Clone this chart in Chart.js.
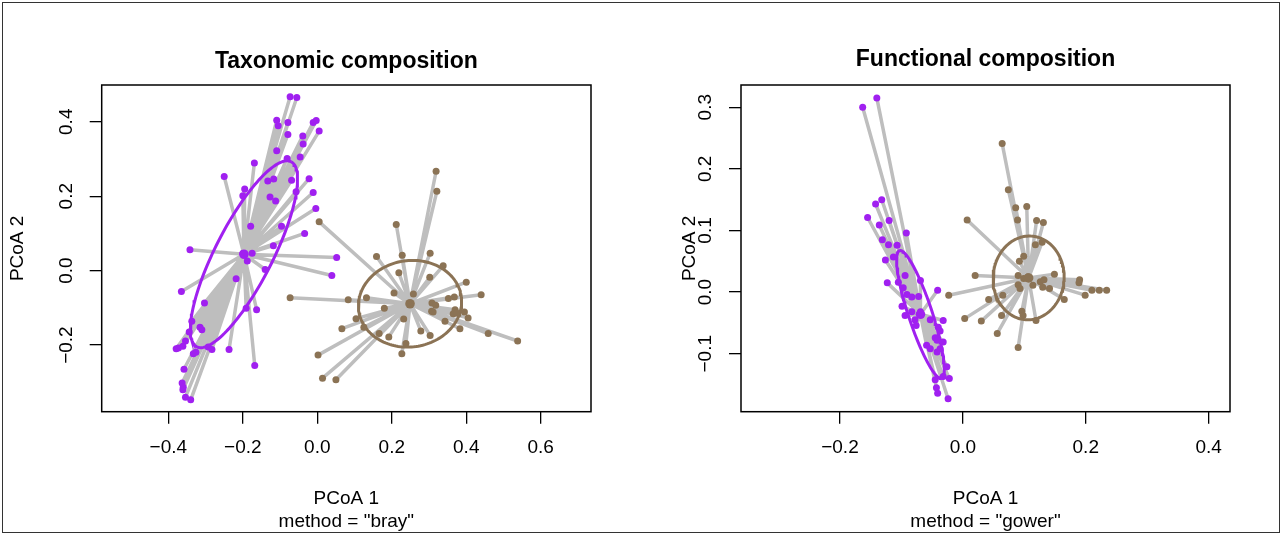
<!DOCTYPE html>
<html>
<head>
<meta charset="utf-8">
<script src="https://cdn.jsdelivr.net/npm/chart.js@4.4.1/dist/chart.umd.min.js"></script>
<style>
  html, body { margin: 0; padding: 0; background: #fff; }
  #page { position: relative; width: 1282px; height: 535px; overflow: hidden; }
  #frame { position: absolute; left: 2px; top: 2px; width: 1276px; height: 529px; border: 1px solid #333; }
  .panel { position: absolute; top: 0; width: 641px; height: 535px; }
</style>
</head>
<body>
<div id="page">
  <div id="frame"></div>
  <div class="panel" style="left:0"><canvas id="taxChart" width="641" height="535"></canvas></div>
  <div class="panel" style="left:641px"><canvas id="funcChart" width="641" height="535"></canvas></div>
</div>
<script>
// group colours
const groupColors = ["#A020F0", "#8B7355"];

// --- Taxonomic composition (bray) ---
const taxPurpleX = [-0.073, -0.055, -0.109, -0.105, -0.079, -0.011, -0.003, 0.005, -0.079, -0.039,
  -0.038, -0.109, -0.169, -0.081, -0.046, -0.250, -0.022, -0.133, -0.117, -0.069,
  -0.195, -0.200, -0.057, -0.011, -0.127, -0.112, -0.004, -0.179, -0.096, -0.034,
  -0.342, -0.118, -0.200, -0.175, 0.052, -0.188, 0.039, -0.140, -0.218, -0.365,
  -0.303, -0.191, -0.163, -0.337, -0.315, -0.310, -0.344, -0.354, -0.361, -0.379,
  -0.373, -0.333, -0.326, -0.293, -0.283, -0.237, -0.168, -0.358, -0.363, -0.360,
  -0.361, -0.354, -0.340];
const taxPurpleY = [0.467, 0.465, 0.404, 0.389, 0.398, 0.398, 0.403, 0.375, 0.366, 0.362,
  0.340, 0.322, 0.289, 0.301, 0.305, 0.253, 0.247, 0.241, 0.246, 0.243,
  0.219, 0.201, 0.212, 0.210, 0.198, 0.187, 0.167, 0.119, 0.119, 0.100,
  0.056, 0.067, 0.046, 0.047, 0.035, 0.026, -0.013, 0.003, -0.022, -0.056,
  -0.087, -0.101, -0.105, -0.136, -0.152, -0.159, -0.165, -0.189, -0.203, -0.210,
  -0.208, -0.223, -0.219, -0.205, -0.212, -0.212, -0.255, -0.265, -0.302, -0.313,
  -0.320, -0.340, -0.347];
const taxBrownX = [0.319, 0.321, 0.005, 0.212, 0.159, 0.228, 0.303, 0.338, 0.219, 0.302,
  0.400, -0.073, 0.083, 0.132, 0.206, 0.258, 0.180, 0.308, 0.318, 0.352,
  0.368, 0.440, 0.307, 0.311, 0.370, 0.365, 0.374, 0.395, 0.405, 0.343,
  0.383, 0.232, 0.104, 0.066, 0.125, 0.166, 0.192, 0.278, 0.303, 0.238,
  0.227, 0.459, 0.538, 0.002, 0.014, 0.050];
const taxBrownY = [0.267, 0.213, 0.131, 0.124, 0.038, 0.041, 0.047, 0.013, -0.006, -0.018,
  -0.031, -0.073, -0.078, -0.073, -0.060, -0.063, -0.101, -0.087, -0.093, -0.075,
  -0.071, -0.065, -0.109, -0.111, -0.105, -0.116, -0.114, -0.111, -0.127, -0.136,
  -0.156, -0.130, -0.129, -0.156, -0.152, -0.169, -0.178, -0.162, -0.174, -0.196,
  -0.223, -0.169, -0.189, -0.227, -0.289, -0.293];
const taxCentroids = [[-0.197, 0.044], [0.249, -0.089]];
// ellipse semi-axes and angle (deg) per group
const taxEllipses = [[0.279, 0.077, 63], [0.139, 0.116, 8]];
const taxXTicks = [-0.4, -0.2, 0.0, 0.2, 0.4, 0.6];
const taxYTicks = [-0.2, 0.0, 0.2, 0.4];

// --- Functional composition (gower) ---
const funcPurpleX = [-0.163, -0.140, -0.142, -0.132, -0.155, -0.136, -0.120, -0.092, -0.131, -0.121,
  -0.107, -0.126, -0.113, -0.094, -0.123, -0.105, -0.069, -0.097, -0.091, -0.083,
  -0.072, -0.041, -0.099, -0.083, -0.069, -0.094, -0.078, -0.076, -0.053, -0.032,
  -0.040, -0.037, -0.045, -0.042, -0.059, -0.053, -0.032, -0.042, -0.037, -0.026,
  -0.032, -0.022, -0.045, -0.043, -0.041, -0.024];
const funcPurpleY = [0.300, 0.315, 0.143, 0.150, 0.121, 0.109, 0.116, 0.096, 0.085, 0.077,
  0.076, 0.052, 0.057, 0.027, 0.015, 0.016, 0.019, 0.007, -0.004, -0.008,
  -0.007, 0.003, -0.023, -0.032, -0.032, -0.038, -0.045, -0.054, -0.045, -0.046,
  -0.057, -0.063, -0.074, -0.078, -0.086, -0.092, -0.081, -0.097, -0.092, -0.121,
  -0.137, -0.140, -0.142, -0.155, -0.164, -0.173];
const funcBrownX = [0.064, 0.074, 0.086, 0.104, 0.089, 0.007, 0.120, 0.131, 0.118, 0.129,
  0.099, 0.092, 0.020, 0.090, 0.106, 0.099, 0.090, 0.093, 0.114, 0.126,
  0.132, 0.130, 0.149, 0.141, 0.190, 0.189, 0.210, 0.222, 0.234, 0.199,
  0.165, -0.023, 0.065, 0.042, 0.003, 0.030, 0.063, 0.096, 0.098, 0.119,
  0.056, 0.090];
const funcBrownY = [0.241, 0.166, 0.137, 0.139, 0.117, 0.117, 0.116, 0.113, 0.077, 0.081,
  0.058, 0.050, 0.027, 0.027, 0.025, 0.022, 0.012, 0.006, 0.011, 0.017,
  0.020, 0.008, 0.029, 0.006, 0.020, 0.015, 0.003, 0.003, 0.003, -0.005,
  -0.012, -0.005, -0.005, -0.012, -0.043, -0.047, -0.038, -0.031, -0.038, -0.046,
  -0.067, -0.090];
const funcCentroids = [[-0.069, -0.036], [0.107, 0.023]];
const funcEllipses = [[0.109, 0.0193, -71.7], [0.068, 0.0578, 86]];
const funcXTicks = [-0.2, 0.0, 0.2, 0.4];
const funcYTicks = [-0.1, 0.0, 0.1, 0.2, 0.3];

Chart.defaults.font.family = '"Liberation Sans", Arial, sans-serif';
Chart.defaults.color = "#000";

function toPoints(xs, ys) {
  return xs.map((x, i) => ({ x: x, y: ys[i] }));
}

// centroid -> point -> centroid ... as one polyline
function spokes(xs, ys, c) {
  const pts = [];
  xs.forEach((x, i) => {
    pts.push({ x: c[0], y: c[1] });
    pts.push({ x: x, y: ys[i] });
  });
  pts.push({ x: c[0], y: c[1] });
  return pts;
}

function ellipse(c, e) {
  const th = e[2] * Math.PI / 180;
  const pts = [];
  for (let k = 0; k <= 144; k++) {
    const t = (k / 144) * 2 * Math.PI;
    pts.push({
      x: c[0] + e[0] * Math.cos(t) * Math.cos(th) - e[1] * Math.sin(t) * Math.sin(th),
      y: c[1] + e[0] * Math.cos(t) * Math.sin(th) + e[1] * Math.sin(t) * Math.cos(th),
    });
  }
  return pts;
}

function fmt(v) {
  const s = Math.abs(v).toFixed(1);
  return v < -1e-9 ? "\u2212" + s : s;
}

const boxPlugin = {
  id: "box",
  afterDraw(chart) {
    const { ctx, chartArea: a } = chart;
    ctx.save();
    ctx.strokeStyle = "#000";
    ctx.lineWidth = 1.5;
    ctx.strokeRect(a.left, a.top, a.right - a.left, a.bottom - a.top);
    ctx.restore();
  },
};

function makePanel(id, p) {
  const datasets = [];
  const groups = [[p.px, p.py], [p.bx, p.by]];
  groups.forEach((g, i) => {
    datasets.push({
      data: spokes(g[0], g[1], p.centroids[i]),
      showLine: true, pointRadius: 0, borderColor: "#BEBEBE", borderWidth: 3.5,
      borderJoinStyle: "round", borderCapStyle: "round", order: 4,
    });
  });
  groups.forEach((g, i) => {
    datasets.push({
      data: ellipse(p.centroids[i], p.ellipses[i]),
      showLine: true, pointRadius: 0, borderColor: groupColors[i], borderWidth: 3, order: 3,
    });
  });
  groups.forEach((g, i) => {
    datasets.push({
      data: toPoints(g[0], g[1]),
      showLine: false, pointRadius: 3.5, pointBorderWidth: 0,
      backgroundColor: groupColors[i], borderColor: groupColors[i], order: 2,
    });
  });
  datasets.push({
    data: p.centroids.map(c => ({ x: c[0], y: c[1] })),
    showLine: false, pointRadius: 4.8, pointBorderWidth: 0,
    backgroundColor: groupColors, borderColor: groupColors, order: 1,
  });

  new Chart(document.getElementById(id), {
    type: "scatter",
    data: { datasets: datasets },
    plugins: [boxPlugin],
    options: {
      responsive: false,
      animation: false,
      events: [],
      layout: { padding: { left: 0, right: p.padRight, top: 0, bottom: 0 } },
      plugins: {
        legend: { display: false },
        tooltip: { enabled: false },
        title: {
          display: true, text: p.title, fullSize: false,
          font: { size: 23, weight: "bold" }, color: "#000",
          padding: { top: p.titleTop, bottom: 85 - 27.6 - p.titleTop },
        },
      },
      scales: {
        x: {
          type: "linear", min: p.xMin, max: p.xMax,
          afterFit: s => { s.height = 123.3; },
          afterBuildTicks: s => { s.ticks = p.xTicks.map(v => ({ value: v })); },
          grid: { drawOnChartArea: false, tickLength: 12, color: "#000", lineWidth: 1.3 },
          border: { display: false },
          ticks: { padding: 13, autoSkip: false, maxRotation: 0, font: { size: 19 }, callback: fmt },
          title: { display: true, text: ["PCoA 1", p.method], font: { size: 19 }, padding: { top: 0, bottom: 2 } },
        },
        y: {
          type: "linear", min: p.yMin, max: p.yMax,
          afterFit: s => { s.width = p.yWidth; },
          afterBuildTicks: s => { s.ticks = p.yTicks.map(v => ({ value: v })); },
          grid: { drawOnChartArea: false, tickLength: 12, color: "#000", lineWidth: 1.3 },
          border: { display: false },
          ticks: { padding: 4, autoSkip: false, minRotation: 90, maxRotation: 90, crossAlign: "center", font: { size: 19 }, callback: fmt },
          title: { display: true, text: "PCoA 2", font: { size: 19 }, padding: { top: p.yTitlePad, bottom: 0 } },
        },
      },
    },
  });
}

makePanel("taxChart", {
  title: "Taxonomic composition", method: 'method = "bray"', titleTop: 48,
  px: taxPurpleX, py: taxPurpleY, bx: taxBrownX, by: taxBrownY,
  centroids: taxCentroids, ellipses: taxEllipses,
  xTicks: taxXTicks, yTicks: taxYTicks,
  xMin: -0.579, xMax: 0.735, yMin: -0.379, yMax: 0.4987,
  yWidth: 101.7, padRight: 50, yTitlePad: 6.6,
});

makePanel("funcChart", {
  title: "Functional composition", method: 'method = "gower"', titleTop: 46,
  px: funcPurpleX, py: funcPurpleY, bx: funcBrownX, by: funcBrownY,
  centroids: funcCentroids, ellipses: funcEllipses,
  xTicks: funcXTicks, yTicks: funcYTicks,
  xMin: -0.361, xMax: 0.4347, yMin: -0.194, yMax: 0.336,
  yWidth: 100, padRight: 52, yTitlePad: 37.6,
});
</script>
</body>
</html>
